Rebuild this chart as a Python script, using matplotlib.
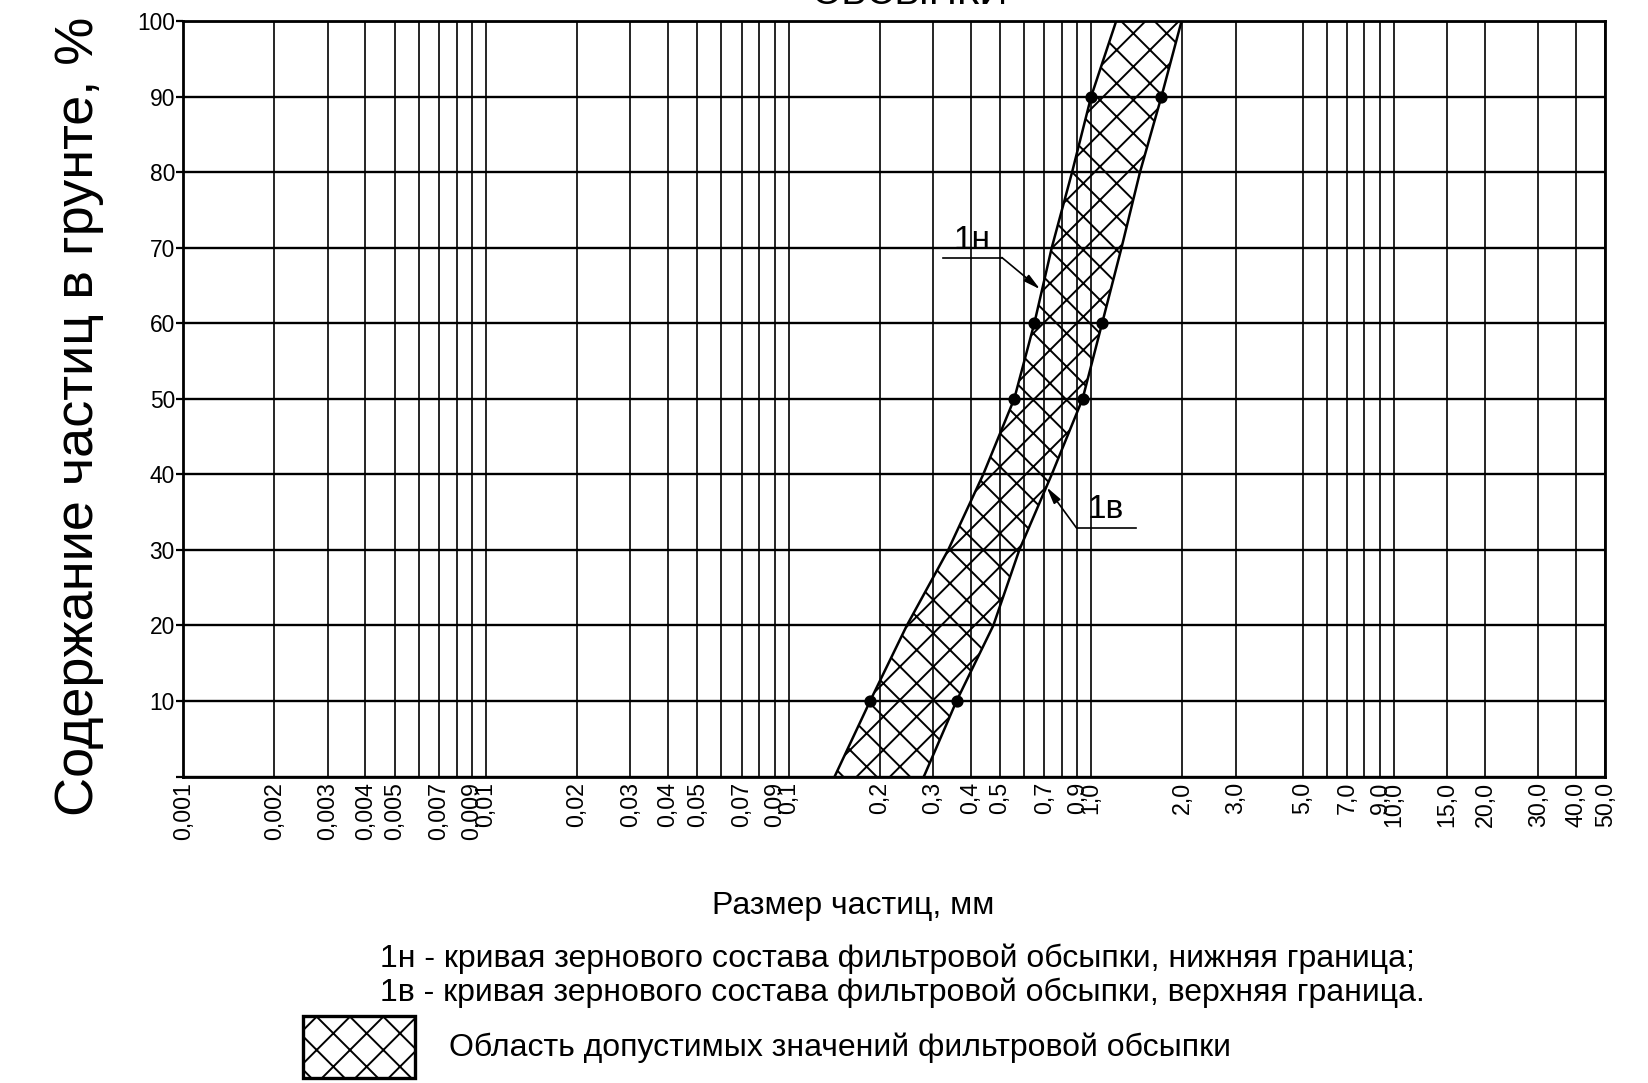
import matplotlib.pyplot as plt
import numpy as np
from matplotlib.patches import Rectangle
from matplotlib.ticker import FixedLocator, FixedFormatter

plt.rcParams['font.family'] = ['Liberation Sans', 'DejaVu Sans']
plt.rcParams['hatch.linewidth'] = 0.7

### данные
pct = [0, 10, 20, 30, 40, 50, 60, 70, 80, 90, 100]
d_1n = [0.142, 0.186, 0.246, 0.337, 0.44, 0.557, 0.649, 0.741, 0.865, 1.0, 1.21]   # нижняя граница
d_1v = [0.28, 0.359, 0.475, 0.579, 0.741, 0.937, 1.087, 1.26, 1.45, 1.707, 1.99]   # верхняя граница
pts_pct = [10, 50, 60, 90]

grid_x = [0.001, 0.002, 0.003, 0.004, 0.005, 0.006, 0.007, 0.008, 0.009,
          0.01, 0.02, 0.03, 0.04, 0.05, 0.06, 0.07, 0.08, 0.09,
          0.1, 0.2, 0.3, 0.4, 0.5, 0.6, 0.7, 0.8, 0.9,
          1.0, 2.0, 3.0, 5.0, 6.0, 7.0, 8.0, 9.0, 10.0, 15.0, 20.0, 30.0, 40.0, 50.0]
x_labels = ['0,001', '0,002', '0,003', '0,004', '0,005', '', '0,007', '', '0,009',
            '0,01', '0,02', '0,03', '0,04', '0,05', '', '0,07', '', '0,09',
            '0,1', '0,2', '0,3', '0,4', '0,5', '', '0,7', '', '0,9',
            '1,0', '2,0', '3,0', '5,0', '', '7,0', '', '9,0', '10,0', '15,0', '20,0', '30,0', '40,0', '50,0']
y_ticks = [0, 10, 20, 30, 40, 50, 60, 70, 80, 90, 100]
y_labels = ['', '10', '20', '30', '40', '50', '60', '70', '80', '90', '100']

fig = plt.figure(figsize=(8.24, 5.415), dpi=200)
ax = fig.add_axes([0.1112, 0.2829, 0.8629, 0.6977])

ax.set_xscale('log')
ax.set_xlim(0.001, 50)
ax.set_ylim(0, 100)

ax.xaxis.set_major_locator(FixedLocator(grid_x))
ax.xaxis.set_major_formatter(FixedFormatter(x_labels))
ax.xaxis.set_minor_locator(FixedLocator([]))
ax.yaxis.set_major_locator(FixedLocator(y_ticks))
ax.yaxis.set_major_formatter(FixedFormatter(y_labels))

ax.tick_params(axis='x', length=0, pad=2, labelsize=8.4, labelrotation=90)
ax.tick_params(axis='y', length=2.5, width=0.8, pad=0.5, labelsize=8.2)
for lbl in ax.get_xticklabels():
    lbl.set_verticalalignment('top')

ax.grid(axis='x', color='black', lw=0.6)
ax.grid(axis='y', color='black', lw=0.85)
ax.set_axisbelow(True)
for s in ax.spines.values():
    s.set_linewidth(1.0)

# область допустимых значений
ax.fill_betweenx(pct, d_1n, d_1v, facecolor='none', edgecolor='black', hatch='xx', linewidth=0)
ax.plot(d_1n, pct, color='black', lw=0.9)
ax.plot(d_1v, pct, color='black', lw=0.9)

idx = [pct.index(p) for p in pts_pct]
ax.plot([d_1n[i] for i in idx], pts_pct, 'o', color='black', ms=3.4)
ax.plot([d_1v[i] for i in idx], pts_pct, 'o', color='black', ms=3.4)

# выноски
arr = dict(arrowstyle='-|>,head_length=0.5,head_width=0.12', color='black', lw=0.6,
           shrinkA=0, shrinkB=0)
ax.plot([0.324, 0.507], [68.7, 68.7], color='black', lw=0.6)
ax.annotate('', xy=(0.678, 64.5), xytext=(0.507, 68.7), arrowprops=arr)
ax.text(0.404, 71.0, '1н', ha='center', va='center', fontsize=12)

ax.plot([0.895, 1.406], [32.9, 32.9], color='black', lw=0.6)
ax.annotate('', xy=(0.713, 38.3), xytext=(0.895, 32.9), arrowprops=arr)
ax.text(1.119, 35.4, '1в', ha='center', va='center', fontsize=12)

# подписи
fig.text(0.0479, 0.6159, 'Содержание частиц в грунте, %', rotation=90,
         ha='center', va='center', fontsize=19.5)
fig.text(0.5176, 0.1634, 'Размер частиц, мм', ha='center', va='center', fontsize=11.5)
fig.text(0.2306, 0.1150, '1н - кривая зернового состава фильтровой обсыпки, нижняя граница;',
         ha='left', va='center', fontsize=11.5)
fig.text(0.2306, 0.0835, '1в - кривая зернового состава фильтровой обсыпки, верхняя граница.',
         ha='left', va='center', fontsize=11.5)
fig.text(0.2725, 0.0323, 'Область допустимых значений фильтровой обсыпки',
         ha='left', va='center', fontsize=11.5)
fig.text(0.5516, 0.9965, 'ОБСЫПКИ', ha='center', va='baseline', fontsize=14)

fig.patches.append(Rectangle((0.1837, 0.00425), 0.0683, 0.0573, transform=fig.transFigure,
                             facecolor='none', edgecolor='black', hatch='xx', lw=1.2))

fig.savefig('out.png', dpi=200)
